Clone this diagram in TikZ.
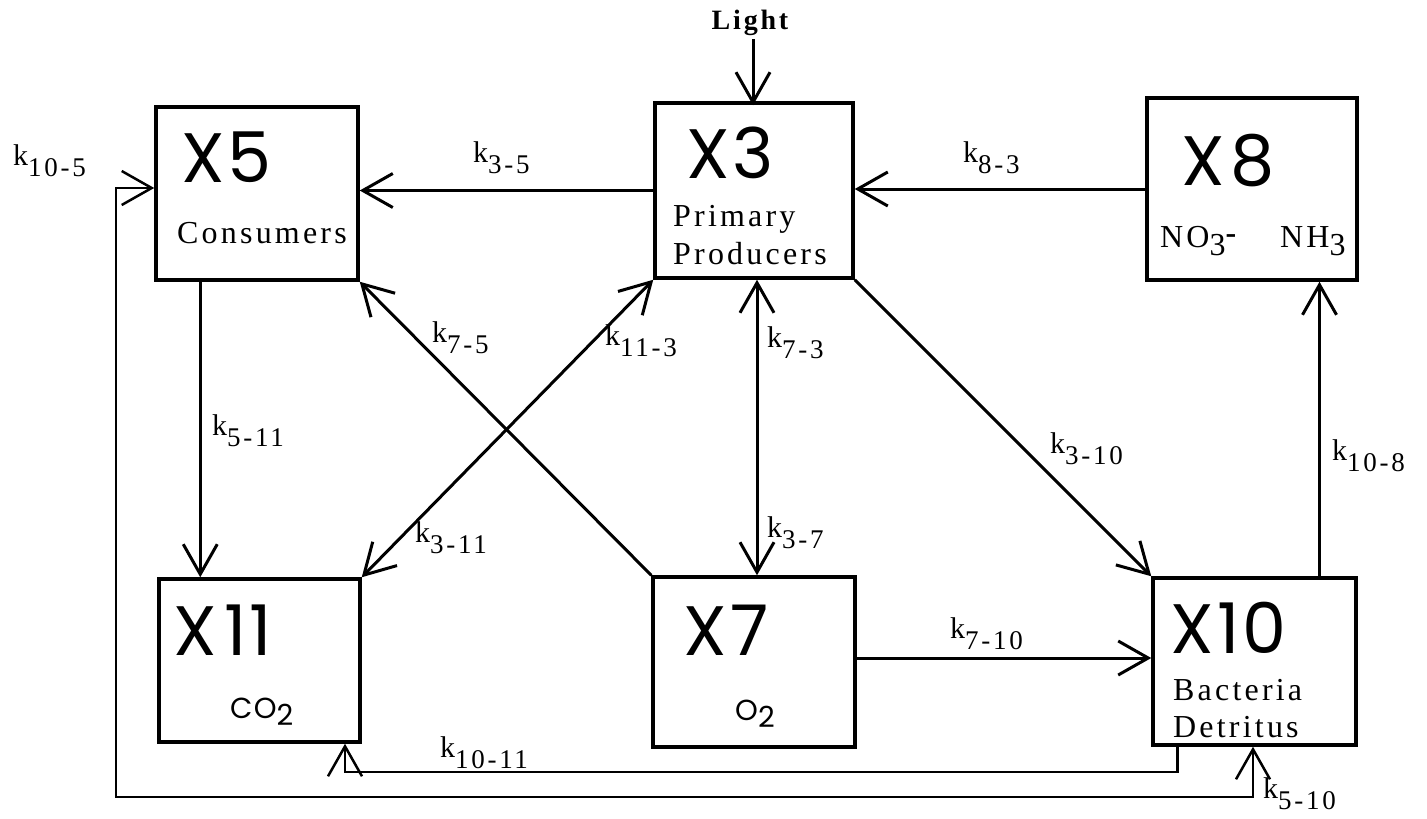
\documentclass[tikz,border=0pt]{standalone}
\usepackage{fontspec}
\usetikzlibrary{arrows.meta,calc}
\newfontfamily\geo[LetterSpace=4]{Poppins}
\newfontfamily\tw[LetterSpace=10]{Liberation Serif}
\newcommand{\ksub}[1]{k\raisebox{-11pt}{\fontsize{27}{28}\selectfont #1}}
\tikzset{
  barb/.tip={Straight Barb[length=30pt,width=34pt]},
  box/.style={draw, line width=3.5pt, inner sep=0pt},
  big/.style={font=\geo\fontsize{70}{72}\selectfont, anchor=base west, inner sep=0pt, text depth=0pt, text height=50pt},
  lab/.style={font=\tw\fontsize{32}{33}\selectfont, anchor=base west, inner sep=0pt, text height=21pt},
  sml/.style={font=\geo\fontsize{29}{30}\selectfont, anchor=base west, inner sep=0pt},
  kl/.style={font=\tw\fontsize{30}{31}\selectfont, anchor=base west, inner sep=0pt},
  conn/.style={line width=3pt, line join=miter},
  thinconn/.style={line width=2.5pt, line join=miter},
}
\begin{document}
\begin{tikzpicture}[x=1pt,y=-1pt]
\useasboundingbox (0,0) rectangle (1427,819);
% boxes
\node[box, minimum width=202pt, minimum height=173pt] (X5) at (257,193.5) {};
\node[box, minimum width=198pt, minimum height=175pt] (X3) at (754,190.5) {};
\node[box, minimum width=210pt, minimum height=182pt] (X8) at (1252,189) {};
\node[box, minimum width=201pt, minimum height=163pt] (X11) at (259.5,660.5) {};
\node[box, minimum width=202pt, minimum height=170pt] (X7) at (754,662) {};
\node[box, minimum width=203pt, minimum height=167pt] (X10) at (1254.5,661.5) {};
% box texts
\node[big] (t5) at (181,182) {X5};
\node[lab] (c5) at (177,243) {Consumers};
\node[big] (t3) at (686,178) {X3};
\node[lab] (p3a) at (673,226) {Primary};
\node[lab] (p3b) at (673,264) {Producers};
\node[big] (t8) at (1181,185) {X\kern6pt8};
\node[lab] (n8a) at (1160,247) {NO\raisebox{-8pt}{3}\raisebox{4pt}{\bfseries -}};
\node[lab] (n8b) at (1280,247) {NH\raisebox{-8pt}{3}};
\node[big] (t11) at (173,655) {X\kern8pt11};
\node[sml] (c11) at (230,718) {CO\raisebox{-7pt}{2}};
\node[big] (t7) at (683,655) {X\kern4pt7};
\node[sml] (c7) at (735,720) {O\raisebox{-7pt}{2}};
\node[big] (t10) at (1170,653) {X\kern4pt1\kern2pt0};
\node[lab] (b10a) at (1173,700) {Bacteria};
\node[lab] (b10b) at (1173,737) {Detritus};
% light
\node[font=\tw\bfseries\fontsize{28}{29}\selectfont, inner sep=0pt, anchor=base] (light) at (750,29) {Light};
% connectors
\draw[conn,-barb] ([xshift=3pt,yshift=-4pt]light.south) -- ([xshift=3pt,yshift=-4pt]light.south |- X3.north);
\draw[conn,-barb] (X3.west) -- (X3.west -| X5.east);
\draw[conn,-barb] (X8.west) -- (X8.west -| X3.east);
\draw[conn,-barb] ([xshift=46pt]X5.south west) -- ([xshift=46pt]X5.south west |- X11.north);
\draw[conn,barb-barb] (X3.south west) -- (X11.north east);
\draw[conn,-barb] (X7.north west) -- (X5.south east);
\draw[conn,barb-barb] ([xshift=3pt]X3.south) -- ([xshift=3pt]X3.south |- X7.north);
\draw[conn,-barb] (X3.south east) -- (X10.north west);
\draw[conn,-barb] ([yshift=4pt]X7.east) -- ([yshift=4pt]X7.east -| X10.west);
\draw[conn,-barb] ([xshift=65pt]X10.north) -- ([xshift=65pt]X10.north |- X8.south);
\coordinate (c1011) at (345,772);
\draw[thinconn,-barb] ([xshift=-77pt]X10.south) |- (c1011) -- (c1011 |- X11.south);
\coordinate (loopBL) at (116,797);
\draw[thinconn,barb-barb] ([yshift=5.5pt]X5.west) -| (loopBL) -| ([xshift=-1.5pt]X10.south);
% rate labels
\node[kl] (k35) at (473,162) {\ksub{3-5}};
\node[kl] (k83) at (963,162) {\ksub{8-3}};
\node[kl] (k511) at (212,435) {\ksub{5-11}};
\node[kl] (k105) at (13,165) {\ksub{10-5}};
\node[kl] (k75) at (432,342) {\ksub{7-5}};
\node[kl] (k113) at (605,345) {\ksub{11-3}};
\node[kl] (k311) at (415,542) {\ksub{3-11}};
\node[kl] (k73) at (767,347) {\ksub{7-3}};
\node[kl] (k37) at (767,537) {\ksub{3-7}};
\node[kl] (k310) at (1050,453) {\ksub{3-10}};
\node[kl] (k108) at (1332,460) {\ksub{10-8}};
\node[kl] (k510) at (1263,798) {\ksub{5-10}};
\node[kl] (k710) at (950,638) {\ksub{7-10}};
\node[kl] (k1011) at (440,757) {\ksub{10-11}};
\end{tikzpicture}
\end{document}
